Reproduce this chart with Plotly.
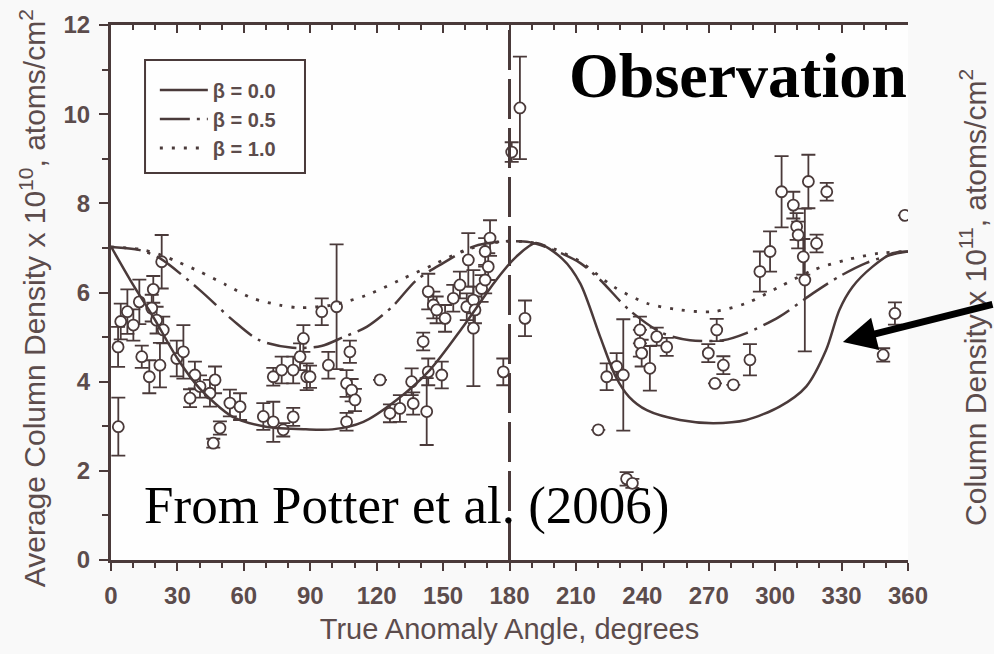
import plotly.graph_objects as go

# Model curves (true anomaly angle in degrees vs average column density, 1e10 atoms/cm^2)
beta00_angle = [0, 10, 19, 30, 40, 55, 70, 88, 100, 114, 129, 144, 159, 174, 183, 192,
                204, 212, 221, 228, 234, 242, 257, 272, 287, 302, 314, 323, 329, 335,
                344, 353, 360]
beta00_value = [7.03, 6.17, 5.46, 4.52, 3.85, 3.21, 2.99, 2.93, 2.93, 3.10, 3.59, 4.26,
                5.23, 6.28, 6.80, 7.11, 6.75, 6.20, 5.00, 4.11, 3.66, 3.36, 3.14, 3.07,
                3.14, 3.44, 3.89, 4.71, 5.61, 6.13, 6.58, 6.88, 6.92]

beta05_angle = [0, 13, 22, 40, 55, 67, 82, 95, 105, 115.5, 127, 138, 150, 163.6, 176, 189,
                200, 212, 221, 234, 249, 261.5, 276.5, 287, 302, 317, 329, 341, 355, 360]
beta05_value = [7.02, 6.95, 6.77, 6.06, 5.38, 4.93, 4.76, 4.80, 5.00, 5.23, 5.68, 6.28,
                6.66, 7.03, 7.14, 7.13, 6.95, 6.66, 6.28, 5.61, 5.09, 4.93, 4.93, 5.09,
                5.46, 5.98, 6.36, 6.66, 6.88, 6.92]

beta10_angle = [0, 13, 22, 30, 40, 52, 64, 76, 85, 100, 115.5, 130.5, 145.5, 160, 176, 189,
                200, 212, 227, 242, 257, 272, 287, 302, 317, 332, 347, 360]
beta10_value = [7.02, 6.97, 6.85, 6.69, 6.47, 6.17, 5.87, 5.72, 5.66, 5.72, 5.94, 6.28,
                6.62, 6.95, 7.14, 7.13, 6.98, 6.69, 6.13, 5.76, 5.61, 5.57, 5.76, 6.13,
                6.50, 6.73, 6.88, 6.92]

# Observed column densities with uncertainties
obs_angle = [3.3, 3.2, 4.4, 7.4, 10.1, 12.8, 13.9, 17.3, 18.4, 19.1, 20.6, 22.1, 22.9, 23.6,
             29.7, 32.7, 35.7, 37.9, 40.2, 44.7, 46.2, 47.0, 49.2, 53.7, 58.3,
             68.8, 73.3, 73.3, 77.1, 77.8, 82.3, 82.3, 85.4, 86.9, 88.4, 89.9, 95.2, 98.2,
             101.9, 106.4, 107.9, 108.7, 110.2, 106.4, 121.5,
             126.0, 130.5, 135.8, 136.5, 141.0, 142.6, 143.3, 143.3, 145.6, 147.1, 149.4,
             150.9, 154.6, 157.6, 160.7, 161.4, 163.7, 163.7, 164.4, 167.4, 169.0, 169.0,
             170.4, 171.2, 177.2, 181.0, 184.7, 187.0,
             220.1, 223.9, 228.4, 231.4, 232.9, 235.5, 238.9, 238.9, 239.7, 243.4, 246.5,
             251.0, 269.8, 272.8, 273.6, 276.6, 281.1, 288.6, 293.1, 297.7, 302.9, 308.2,
             309.7, 310.4, 312.7, 313.4, 315.0, 318.7, 323.3, 348.8, 354.1, 358.6]
obs_value = [2.99, 4.78, 5.35, 5.57, 5.27, 5.79, 4.56, 4.11, 5.65, 6.07, 5.38, 4.37, 6.69, 5.16,
             4.52, 4.67, 3.63, 4.15, 3.89, 3.74, 2.62, 4.04, 2.96, 3.52, 3.44,
             3.22, 3.10, 4.11, 4.26, 2.92, 3.21, 4.26, 4.56, 4.97, 4.11, 4.11, 5.57, 4.37,
             5.68, 3.96, 4.67, 3.81, 3.59, 3.10, 4.04,
             3.29, 3.40, 4.00, 3.51, 4.90, 3.33, 6.02, 4.22, 5.72, 5.61, 4.15,
             5.42, 5.87, 6.17, 5.68, 6.73, 5.83, 5.20, 5.61, 6.09, 6.28, 6.92,
             6.58, 7.22, 4.22, 9.15, 10.14, 5.42,
             2.92, 4.11, 4.34, 4.15, 1.82, 1.72, 5.16, 4.86, 4.64, 4.30, 5.01,
             4.78, 4.64, 3.96, 5.16, 4.37, 3.93, 4.49, 6.47, 6.92, 8.26, 7.96,
             7.48, 7.29, 6.80, 6.28, 8.49, 7.10, 8.26, 4.60, 5.53, 7.73]
obs_error = [0.65, 0.45, 0.40, 0.50, 0.35, 0.50, 0.25, 0.37, 0.30, 0.30, 0.30, 0.50, 0.60, 0.30,
             0.40, 0.60, 0.20, 0.30, 0.25, 0.30, 0.10, 0.30, 0.15, 0.30, 0.30,
             0.30, 0.45, 0.20, 0.30, 0.15, 0.20, 0.30, 0.30, 0.30, 0.30, 0.25, 0.30, 0.30,
             1.40, 0.30, 0.25, 0.25, 0.25, 0.20, 0.0,
             0.20, 0.30, 0.30, 0.25, 0.20, 0.75, 0.40, 0.30, 0.30, 0.30, 0.30,
             0.30, 0.30, 0.30, 0.30, 0.60, 0.30, 1.30, 0.30, 0.30, 0.30, 0.30,
             0.30, 0.40, 0.30, 0.22, 1.15, 0.40,
             0.0, 0.30, 0.30, 1.25, 0.15, 0.10, 0.30, 0.30, 0.30, 0.50, 0.20,
             0.20, 0.20, 0.0, 0.25, 0.20, 0.0, 0.35, 0.45, 0.45, 0.80, 0.30,
             0.30, 0.30, 0.40, 1.60, 0.60, 0.20, 0.20, 0.15, 0.25, 0.0]

# Aphelion reference angle
aphelion_angle = [180, 180]
aphelion_span = [0, 12]

x_ticks = [0, 30, 60, 90, 120, 150, 180, 210, 240, 270, 300, 330, 360]
left_ticks = [0, 2, 4, 6, 8, 10, 12]
right_ticks = [0, 1, 2, 3, 4]

INK = "#4a3a3a"
LABEL = "#5c4c4c"
SANS = "Liberation Sans, Arial, sans-serif"
SERIF = "Liberation Serif, Times New Roman, serif"

fig = go.Figure()

# dashed aphelion line, on the labelled bottom axis
fig.add_trace(go.Scatter(
    x=aphelion_angle, y=aphelion_span, xaxis="x2", yaxis="y", mode="lines",
    showlegend=False, hoverinfo="skip",
    line=dict(color=INK, width=3, dash="40px,9px"),
))

fig.add_trace(go.Scatter(
    x=obs_angle, y=obs_value, mode="markers", showlegend=False,
    error_y=dict(type="data", array=obs_error, visible=True, color=INK,
                 thickness=1.8, width=7),
    marker=dict(symbol="circle", size=11, color="white",
                line=dict(color=INK, width=1.8)),
))

fig.add_trace(go.Scatter(
    x=beta00_angle, y=beta00_value, mode="lines", name="β = 0.0", legendgroup="a",
    line=dict(color=INK, width=2.5, shape="spline", smoothing=0.8),
))
fig.add_trace(go.Scatter(
    x=beta05_angle, y=beta05_value, mode="lines", name="β = 0.5", legendgroup="b",
    line=dict(color=INK, width=2.5, shape="spline", smoothing=0.8,
              dash="30px,7px,3px,7px"),
))
fig.add_trace(go.Scatter(
    x=beta10_angle, y=beta10_value, mode="lines", name="β = 1.0", legendgroup="c",
    line=dict(color=INK, width=2.8, shape="spline", smoothing=0.8, dash="3px,9px"),
))

# legend frame
fig.add_shape(type="rect", xref="paper", yref="paper",
              x0=0.0427, x1=0.2434, y0=0.7234, y1=0.9346,
              line=dict(color=INK, width=2), fillcolor="rgba(0,0,0,0)")

tick_font = dict(family=SANS, size=24, color=LABEL, weight="bold")

fig.update_layout(
    width=994, height=654,
    margin=dict(l=111, r=86, t=25, b=94),
    paper_bgcolor="#f9f9f9",
    plot_bgcolor="#fefefe",
    # frame top: ticks pointing into the plot
    xaxis=dict(range=[0, 360], side="top", tickvals=x_ticks, ticks="inside", ticklen=8,
               tickwidth=2, tickcolor=INK, showticklabels=False,
               showline=True, linewidth=2.5, linecolor=INK,
               minor=dict(dtick=10, ticks="inside", ticklen=5, tickwidth=1.5, tickcolor=INK),
               showgrid=False, zeroline=False),
    # labelled bottom axis
    xaxis2=dict(range=[0, 360], overlaying="x", side="bottom", anchor="y", tickvals=x_ticks,
                ticks="outside", ticklen=8, tickwidth=2, tickcolor=INK,
                showline=True, linewidth=2.5, linecolor=INK,
                minor=dict(dtick=10, ticks="outside", ticklen=5, tickwidth=1.5, tickcolor=INK),
                ticklabelstandoff=4, tickfont=tick_font,
                title=dict(text="True Anomaly Angle, degrees",
                           font=dict(family=SANS, size=29, color=LABEL), standoff=12),
                showgrid=False, zeroline=False),
    yaxis=dict(range=[0, 12], tickvals=left_ticks, ticks="outside", ticklen=9, tickwidth=2,
               tickcolor=INK, showline=True, linewidth=3, linecolor=INK,
               minor=dict(dtick=1, ticks="outside", ticklen=6, tickwidth=1.5, tickcolor=INK),
               ticklabelstandoff=4, tickfont=tick_font,
               showgrid=False, zeroline=False),
    yaxis2=dict(range=[0, 4], overlaying="y", side="right", tickvals=right_ticks,
                ticks="outside", ticklen=9, tickwidth=2, tickcolor=INK,
                showline=True, linewidth=1.5, linecolor=INK,
                minor=dict(dtick=0.5, ticks="outside", ticklen=6, tickwidth=1.5, tickcolor=INK),
                ticklabelstandoff=14, tickfont=tick_font,
                showgrid=False, zeroline=False),
    legend=dict(x=0.055, y=0.915, xanchor="left", yanchor="top", itemwidth=48,
                bgcolor="rgba(0,0,0,0)", borderwidth=0, tracegroupgap=0,
                font=dict(family=SANS, size=20, color=LABEL, weight="bold")),
    showlegend=True,
)

annotations = [
    dict(text="Average Column Density x 10<sup>10</sup>, atoms/cm<sup>2</sup>",
         xref="paper", yref="paper", x=-0.125, y=0.49, textangle=-90, showarrow=False,
         font=dict(family=SANS, size=30, color=LABEL)),
    dict(text="Column Density x 10<sup>11</sup>, atoms/cm<sup>2</sup>",
         xref="paper", yref="paper", x=1.108, y=0.49, textangle=-90, showarrow=False,
         font=dict(family=SANS, size=30, color=LABEL)),
    dict(text="<b>Observation</b>", xref="paper", yref="paper", x=0.572, y=0.9065,
         xanchor="left", yanchor="middle", showarrow=False,
         font=dict(family=SERIF, size=64, color="black")),
    dict(text="From Potter et al. (2006)", xref="paper", yref="paper", x=0.039, y=0.101,
         xanchor="left", yanchor="middle", showarrow=False,
         font=dict(family=SERIF, size=53, color="black")),
    dict(text="", x=330.6, y=4.89, xref="x", yref="y", showarrow=True,
         ax=165, ay=-38, arrowhead=2, arrowsize=0.95, arrowwidth=7, arrowcolor="black"),
]
fig.update_layout(annotations=annotations)

fig.write_html("out.html")
